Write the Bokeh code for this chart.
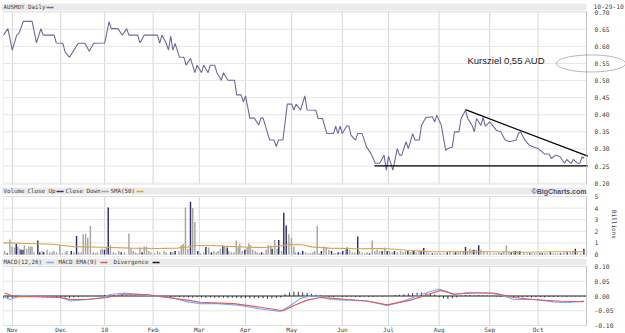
import numpy as np
from bokeh.plotting import figure
from bokeh.layouts import column
from bokeh.core.properties import value
from bokeh.models import (Range1d, Label, BoxAnnotation, PolyAnnotation, ColumnDataSource)
from bokeh.embed import file_html
from bokeh.resources import INLINE

# ---------------- data (x = trading-day index) ----------------
month_ticks = [4, 26, 46, 68, 89, 110, 131, 154, 175, 198, 221, 243]
month_labels = ["Nov", "Dec", "10", "Feb", "Mar", "Apr", "May", "Jun", "Jul", "Aug", "Sep", "Oct"]
price_ticks = [0.20, 0.25, 0.30, 0.35, 0.40, 0.45, 0.50, 0.55, 0.60, 0.65, 0.70]
vol_ticks = [0, 1, 2, 3, 4, 5]
macd_ticks = [-0.10, -0.05, 0.0, 0.05, 0.10]
chart_date = "10-29-10"

price_day = [0, 2, 4, 6, 7, 9, 13, 15, 17, 18,
             23, 24, 27, 28, 30, 32, 34, 37, 39, 41,
             46, 48, 49, 52, 54, 56, 57, 61, 62, 64,
             70, 71, 72, 74, 75, 76, 77, 78, 80, 82,
             83, 85, 87, 88, 90, 91, 93, 94, 96, 97,
             99, 100, 102, 105, 106, 108, 109, 110, 112, 114,
             116, 117, 118, 121, 123, 124, 125, 127, 129, 131,
             132, 133, 135, 137, 138, 142, 143, 145, 147, 150,
             151, 152, 153, 154, 156, 157, 158, 160, 161, 163,
             164, 165, 167, 169, 171, 173, 174, 175, 177, 179,
             180, 181, 183, 184, 186, 187, 189, 190, 192, 195,
             196, 197, 199, 201, 202, 204, 205, 207, 208, 210,
             211, 213, 214, 215, 217, 218, 219, 221, 224, 226,
             228, 230, 233, 234, 235, 237, 239, 241, 243, 246,
             248, 249, 251, 253, 255, 256, 258, 259, 261, 262,
             263, 264]
price_close = [0.633, 0.652, 0.589, 0.633, 0.638, 0.673, 0.673, 0.610, 0.652, 0.633,
               0.633, 0.610, 0.609, 0.584, 0.568, 0.589, 0.609, 0.609, 0.586, 0.609,
               0.610, 0.672, 0.652, 0.652, 0.633, 0.652, 0.633, 0.633, 0.610, 0.633,
               0.633, 0.609, 0.633, 0.609, 0.589, 0.630, 0.589, 0.609, 0.568, 0.568,
               0.545, 0.565, 0.523, 0.545, 0.523, 0.545, 0.523, 0.545, 0.545, 0.523,
               0.501, 0.523, 0.501, 0.501, 0.458, 0.458, 0.438, 0.455, 0.390, 0.390,
               0.370, 0.390, 0.390, 0.326, 0.326, 0.307, 0.326, 0.326, 0.431, 0.431,
               0.414, 0.431, 0.414, 0.455, 0.414, 0.413, 0.389, 0.389, 0.345, 0.345,
               0.367, 0.345, 0.367, 0.345, 0.367, 0.367, 0.340, 0.326, 0.345, 0.345,
               0.326, 0.306, 0.287, 0.258, 0.258, 0.282, 0.238, 0.279, 0.238, 0.301,
               0.282, 0.282, 0.321, 0.301, 0.345, 0.326, 0.326, 0.369, 0.392, 0.394,
               0.379, 0.399, 0.369, 0.296, 0.301, 0.306, 0.350, 0.350, 0.389, 0.413,
               0.389, 0.369, 0.350, 0.389, 0.369, 0.392, 0.367, 0.379, 0.355, 0.350,
               0.326, 0.321, 0.326, 0.345, 0.350, 0.326, 0.311, 0.306, 0.301, 0.285,
               0.285, 0.272, 0.282, 0.277, 0.258, 0.269, 0.258, 0.269, 0.258, 0.258,
               0.277, 0.272]

# chart annotations drawn by the author
support_level = 0.2505
support_start = 168.6
resist_start = (210.0, 0.415)
resist_end = (265.6, 0.279)
target_price = 0.55
target_text = "Kursziel 0,55 AUD"

vol_day = [0.5, 1.7, 2.9, 3.9, 5.0, 5.8, 6.5, 7.4, 8.0, 8.9, 9.5, 10.5, 11.5, 12.3, 13.0, 13.8,
           15.6, 16.5, 17.6, 18.3, 19.8, 21.0, 22.1, 22.9, 24.1, 25.6, 26.7, 28.2, 28.9, 30.8,
           32.0, 33.2, 34.2, 35.3, 36.2, 37.3, 38.3, 39.5, 40.8, 41.7, 42.6, 44.1, 44.9, 45.9,
           46.8, 47.6, 48.6, 49.9, 50.9, 52.4, 53.5, 55.0, 57.0, 58.0, 59.0, 60.0, 61.0, 62.0,
           63.0, 64.0, 65.0, 66.0, 67.0, 68.6, 70.0, 71.0, 73.0, 74.0, 76.0, 77.0, 78.0, 79.7,
           80.8, 81.7, 82.7, 83.8, 85.0, 86.0, 87.0, 88.3,
           89.5, 91.0, 92.0, 93.3, 94.5, 95.6, 96.7, 97.6, 98.6, 99.7, 100.6, 101.7, 102.4,
           103.6, 104.7, 105.8, 106.7, 107.4, 108.5, 109.7, 110.8, 111.5, 112.3, 113.3, 114.5,
           115.3, 116.4, 117.3, 118.3, 119.4, 120.3, 121.4, 122.1, 123.3, 124.4, 125.1, 126.4,
           127.4, 128.5, 129.7, 130.9, 132.0, 132.7, 134.0, 135.0, 136.0, 137.3, 138.5, 139.5,
           140.6, 141.5, 142.6, 143.6, 144.5, 145.6, 146.7, 147.9, 149.1, 150.1, 150.9, 152.1,
           153.2, 154.2, 155.5, 156.2, 157.3, 158.5, 159.7, 161.0, 161.8, 163.0, 164.2, 165.3,
           166.4, 167.6, 168.8, 169.8, 170.9, 172.1, 173.3, 174.4, 175.5, 176.7,
           177.7, 179.0, 180.5, 181.6, 182.7, 183.8, 184.8, 185.8, 186.5, 187.6, 188.8, 189.8,
           191.0, 192.3, 193.3, 194.9, 196.0, 197.1, 198.6, 200.0, 201.7, 202.9, 204.7, 205.5,
           206.6, 207.7, 209.0, 210.0, 211.0, 212.0, 213.0, 213.8, 215.0, 216.0, 217.0, 218.3,
           219.9, 221.4, 222.9, 224.0, 225.1, 226.3, 227.4, 228.6, 229.7, 230.8, 232.0, 232.7,
           233.8, 234.7, 236.5, 238.0, 239.2, 240.3, 241.5, 242.6, 243.8, 244.9, 246.0, 247.1,
           248.6, 249.8, 250.9, 252.0, 253.2, 254.7, 256.2, 257.7, 258.8, 259.9, 260.8, 262.3,
           263.8]
vol_bn = [0.3, 0.1, 1.3, 0.7, 0.6, 0.9, 0.7, 0.5, 0.4, 0.4, 0.8, 0.5, 0.7, 0.7, 0.7, 0.2,
          1.2, 0.2, 0.3, 0.2, 0.4, 0.2, 0.2, 0.3, 0.2, 0.8, 0.1, 0.2, 0.3, 0.3,
          0.2, 1.6, 0.2, 0.2, 1.75, 1.8, 1.45, 2.45, 0.2, 0.1, 0.2, 0.4, 0.5, 0.4,
          0.6, 4.05, 0.8, 0.2, 0.1, 0.3, 0.2, 0.2, 1.8, 0.5, 0.3, 0.2, 0.1, 0.6,
          0.2, 0.7, 0.7, 0.3, 0.2, 0.1, 0.3, 0.2, 0.3, 0.2, 0.2, 0.2, 0.3, 0.3,
          0.8, 0.9, 4.05, 0.5, 4.55, 4.0, 2.8, 0.3,
          0.1, 0.2, 0.65, 0.6, 0.2, 0.3, 0.2, 0.3, 0.5, 0.75, 0.7, 0.6, 0.3,
          0.2, 0.2, 1.2, 0.6, 0.95, 0.3, 0.4, 0.6, 0.95, 0.8, 0.4, 0.3,
          0.2, 0.1, 0.2, 0.1, 0.4, 0.8, 0.8, 0.5, 1.25, 0.5, 1.25, 0.3,
          3.6, 2.5, 1.75, 1.45, 0.7, 0.2, 0.2, 0.1, 0.3, 0.2, 0.1, 0.1,
          0.2, 0.3, 2.45, 0.1, 0.3, 0.7, 0.6, 0.4, 0.3, 0.1, 0.1, 0.2,
          0.2, 0.3, 0.4, 0.6, 0.4, 0.2, 0.2, 1.55, 0.3, 0.2, 0.1, 0.2,
          0.1, 1.2, 0.3, 0.4, 0.3, 0.3, 0.6, 0.3, 0.3, 0.2,
          0.3, 0.2, 0.3, 0.2, 0.3, 0.3, 0.2, 0.3, 0.3, 0.2, 0.3, 0.3,
          0.55, 0.2, 0.1, 0.1, 0.1, 0.1, 0.1, 0.1, 0.2, 0.3, 0.2, 0.2,
          0.2, 0.3, 0.3, 0.65, 0.3, 0.5, 0.4, 0.4, 0.4, 0.8, 0.4, 0.3,
          0.2, 0.1, 0.1, 0.1, 0.2, 0.1, 0.3, 0.8, 0.2, 0.2, 0.3, 0.3,
          0.3, 0.3, 0.2, 0.1, 0.1, 0.1, 0.1, 0.1, 0.1, 0.1, 0.1, 0.1,
          0.2, 0.1, 0.1, 0.1, 0.1, 0.2, 0.2, 0.2, 0.3, 0.5, 0.2, 0.1,
          0.5]
vol_up = [0, 1, 0, 0, 0, 1, 0, 0, 1, 1, 0, 0, 0, 0, 0, 0,
          1, 1, 0, 1, 0, 0, 0, 0, 0, 0, 0, 0, 0, 1,
          0, 1, 0, 0, 0, 0, 0, 0, 0, 0, 0, 0, 0, 1,
          0, 1, 0, 0, 0, 0, 1, 0, 0, 0, 0, 0, 0, 0,
          1, 0, 0, 0, 0, 0, 0, 0, 0, 0, 1, 0, 1, 0,
          0, 0, 0, 0, 1, 0, 0, 1,
          0, 0, 1, 0, 1, 0, 0, 0, 0, 1, 0, 1, 0,
          0, 0, 0, 0, 0, 0, 1, 0, 0, 0, 0, 0,
          0, 0, 1, 0, 0, 0, 0, 1, 0, 0, 1, 0,
          1, 1, 0, 0, 0, 0, 1, 0, 1, 0, 0, 0,
          0, 0, 0, 0, 1, 0, 0, 0, 1, 0, 0, 1,
          0, 1, 0, 1, 0, 0, 0, 1, 0, 0, 0, 0,
          1, 0, 0, 0, 0, 1, 0, 1, 0, 0,
          1, 0, 0, 0, 0, 1, 0, 0, 1, 0, 0, 1,
          1, 0, 0, 1, 0, 0, 0, 0, 1, 0, 0, 1,
          0, 0, 0, 1, 0, 0, 0, 1, 0, 1, 0, 0,
          0, 0, 0, 0, 0, 1, 0, 0, 0, 1, 0, 1,
          0, 1, 0, 0, 1, 0, 0, 0, 1, 1, 0, 0,
          1, 0, 0, 0, 1, 0, 1, 0, 0, 1, 0, 0,
          1]

sma_day = [0, 10, 22, 27, 32, 45, 58, 70, 79, 84, 88, 95, 102, 112, 119, 124, 130, 136,
           140, 148, 160, 172, 178, 185, 194, 205, 220, 236, 251, 264]
sma50 = [1.0, 0.95, 0.88, 0.78, 0.68, 0.62, 0.55, 0.52, 0.55, 0.66, 0.78, 0.78, 0.70, 0.62,
         0.60, 0.70, 0.86, 0.84, 0.66, 0.55, 0.50, 0.52, 0.45, 0.35, 0.25, 0.24, 0.24, 0.20,
         0.24, 0.24]

macd_day = [0.5, 3.2, 7.7, 13.8, 25.9, 30.5, 38.0, 45.6, 48.6, 54.7, 62.3, 68.3, 77.4, 83.5,
            89.5, 97.1, 107.7, 116.8, 125.9, 130.5, 135.0, 139.5, 142.6, 148.6, 156.2, 165.3,
            174.4, 180.5, 188.0, 194.1, 197.9, 201.7, 204.7, 210.8, 219.9, 225.9, 232.0, 241.0,
            250.0, 256.2, 263.8]
macd_line = [-0.005, -0.012, 0.002, 0.0, -0.005, -0.017, -0.012, -0.005, 0.005, 0.010, 0.005,
             0.0, -0.007, -0.020, -0.026, -0.026, -0.032, -0.044, -0.052, -0.032, -0.008, 0.0,
             0.0, -0.012, -0.014, -0.017, -0.032, -0.020, 0.0, 0.015, 0.024, 0.014, 0.004,
             0.012, 0.010, 0.004, -0.012, -0.012, -0.020, -0.023, -0.017]
signal_day = [0.5, 4.7, 13.8, 25.9, 30.5, 38.0, 47.1, 54.7, 65.3, 74.4, 83.5, 89.5, 104.7,
              116.8, 127.1, 132.0, 138.0, 143.8, 150.2, 156.2, 165.3, 174.4, 185.0, 192.6,
              198.6, 204.7, 213.8, 222.9, 232.0, 241.0, 253.2, 263.8]
signal_line = [0.010, -0.002, -0.002, -0.005, -0.012, -0.012, -0.005, 0.007, 0.005, -0.005,
               -0.014, -0.021, -0.026, -0.038, -0.050, -0.032, -0.014, -0.005, -0.008, -0.012,
               -0.017, -0.030, -0.014, 0.004, 0.019, 0.007, 0.010, 0.010, -0.005, -0.012,
               -0.018, -0.019]
div_day = list(range(0, 265, 2))
divergence = [-0.008, -0.008, -0.006,
              -0.004, -0.003, -0.003, -0.004, -0.003, -0.003, -0.004, -0.004, -0.003, -0.003,
              -0.004, -0.005, -0.006, -0.005, -0.004,
              -0.002, -0.001, 0.0, -0.001, 0.001,
              0.003, 0.004, 0.004, 0.003, 0.003,
              0.002, 0.001, 0.001, 0.0, 0.001, 0.0, -0.001, 0.0,
              -0.002, -0.002, -0.003, -0.002, -0.003,
              -0.004, -0.005, -0.005, -0.004, -0.005, -0.006, -0.005, -0.006, -0.006,
              -0.006, -0.007, -0.006, -0.007, -0.008, -0.007, -0.008, -0.008, -0.007, -0.008,
              -0.009, -0.008, -0.007, -0.005,
              0.006, 0.012, 0.015, 0.014, 0.012, 0.010, 0.007,
              0.004, 0.002, 0.0,
              -0.003, -0.003, -0.002, -0.003, -0.003, -0.002, -0.003, -0.003, -0.002, -0.003,
              -0.003, -0.002,
              -0.002, -0.001, 0.001, 0.003, 0.004,
              0.006, 0.008, 0.010, 0.011, 0.012, 0.010, 0.008, 0.005,
              -0.004, -0.008, -0.010, -0.008, -0.004,
              0.002, 0.003, 0.003, 0.002, 0.003, 0.002, 0.002, 0.001,
              -0.002, -0.003, -0.004, -0.004, -0.003, -0.004, -0.004, -0.003, -0.004, -0.003,
              -0.003, -0.004, -0.003, -0.003,
              -0.003, -0.002, -0.003, -0.002, -0.002, -0.002, -0.002]

# ---------------- styling / layout ----------------
W = 625
L, R = 3, 39                 # data area spans page x 3..586
X_END = 265
PXU = (W - L - R) / X_END    # pixels per day
MONO = "DejaVu Sans Mono"
TXT = "#3c3c3c"
PRICE_C = "#6b6b9c"
UP_C = "#2c2c6e"
DOWN_C = "#a4a4a4"
SMA_C = "#d8a24a"
MACD_C = "#78aaf5"
SIG_C = "#e2585c"
BAR_BG = "#ebebeb"
VGRID = "#d6d6d6"
HGRID = "#e6e6e6"
EDGE = "#cdcdcd"
AXLINE = "#9a9a9a"
LABEL_X = 594


def tx(px):
    return (px - L) / PXU


def base(height, yr):
    # the frame spans the full canvas so that annotations can reach the right edge
    p = figure(width=W, height=height, x_range=Range1d(tx(0), tx(W)), y_range=yr,
               output_backend="svg", toolbar_location=None,
               x_axis_location=None, y_axis_location=None, min_border=0)
    p.xgrid.visible = False
    p.ygrid.visible = False
    p.outline_line_color = None
    p.border_fill_color = "white"
    p.background_fill_color = "white"
    return p


def panel_frame(p, y0, y1, ticks, fmt):
    p.segment(x0=month_ticks, x1=month_ticks, y0=y0, y1=y1, line_color=VGRID, line_width=1)
    p.segment(x0=0, x1=X_END, y0=ticks, y1=ticks, line_color=HGRID, line_width=1)
    p.add_layout(BoxAnnotation(left=0, right=X_END, bottom=y0, top=y1, fill_alpha=0,
                               fill_color=None, line_color=EDGE, line_width=1))
    p.add_layout(BoxAnnotation(left=X_END, right=X_END, bottom=y0, top=y1, fill_alpha=0,
                               fill_color=None, line_color=AXLINE, line_width=1))
    # right-hand value labels
    p.text(x=tx(LABEL_X), y=ticks, text=[fmt % v for v in ticks],
           text_font=value(MONO), text_font_size="6.3px", text_color=TXT,
           text_baseline="middle", text_align="left")


def header(p, y_top, y_bot, y_mid, segments):
    p.add_layout(BoxAnnotation(left=tx(1), right=X_END, top=y_top, bottom=y_bot,
                               fill_color=BAR_BG, fill_alpha=1, line_color=None))
    for px, text, color in segments:
        p.add_layout(Label(x=tx(px), y=y_mid, text=text, text_color=color,
                           text_font=MONO, text_font_size="5.8px", text_baseline="middle",
                           text_align="left"))


# --- price panel (page y 0..186) ---
P0, P1 = 0.196, 0.702          # values at page y 184 and 11
PU = (P1 - P0) / 173.0         # value per pixel


def py(cy):
    return P1 - (cy - 11) * PU


p1 = base(186, Range1d(py(186), py(0)))
panel_frame(p1, P0, P1, price_ticks, "%.2f")
header(p1, py(3), py(10), py(6.5), [(3, "AUSMOY Daily", TXT), (46, "▬▬", PRICE_C)])
p1.add_layout(Label(x=tx(593), y=py(5.5), text=chart_date, text_color=TXT,
                    text_font=MONO, text_font_size="6.3px", text_baseline="middle"))
p1.line(price_day, price_close, line_color=PRICE_C, line_width=1.1)
p1.segment(x0=[support_start, resist_start[0]], y0=[support_level, resist_start[1]],
           x1=[X_END + 0.6, resist_end[0]], y1=[support_level, resist_end[1]],
           line_color="black", line_width=1.2)
p1.add_layout(Label(x=tx(467), y=target_price + 3 * PU, text=target_text,
                    text_font="Liberation Sans", text_font_size="9.5px",
                    text_color="#1a1a1a", text_baseline="middle"))
theta = np.linspace(0, 2 * np.pi, 120)
ell_cx = tx(590.5)
p1.add_layout(PolyAnnotation(xs=list(ell_cx + (34.5 / PXU) * np.cos(theta)),
                             ys=list(target_price + 8.5 * PU * np.sin(theta)),
                             fill_color=None, fill_alpha=0, line_color="#111111",
                             line_width=1))

# --- volume panel (page y 186..257) ---
VU = 1 / 11.6                  # billions per pixel


def vy(cy):
    return 5.0 - (cy - 10) * VU


p2 = base(71, Range1d(vy(71), vy(0)))
panel_frame(p2, vy(70), 5.0, vol_ticks, "%d")
p2.text(x=tx(614), y=vy(38), text=["Billions"], angle=-np.pi / 2,
        text_font=value(MONO), text_font_size="6px", text_color=TXT,
        text_baseline="middle", text_align="center")
header(p2, vy(1), vy(8), vy(4.5),
       [(3, "Volume", TXT), (27, "Close Up", TXT), (56, "▬▬", UP_C),
        (65, "Close Down", TXT), (101, "▬▬", DOWN_C), (110, "SMA(50)", TXT),
        (136, "▬▬", SMA_C)])
p2.add_layout(Label(x=X_END, y=vy(4.5), text="©BigCharts.com", text_align="right",
                    text_baseline="middle", text_font="Liberation Sans",
                    text_font_style="bold", text_font_size="7px", text_color="#50507a"))
vsrc = ColumnDataSource(dict(x=vol_day, top=vol_bn,
                             color=[UP_C if u else DOWN_C for u in vol_up]))
p2.vbar(x="x", top="top", bottom=0, width=0.65, source=vsrc, fill_color="color",
        line_color=None)
p2.line(sma_day, sma50, line_color=SMA_C, line_width=1.1)

# --- MACD panel (page y 257..333) ---
MU = 1 / 295.0


def my(cy):
    return 0.10 - (cy - 9) * MU


p3 = base(76, Range1d(my(76), my(0)))
panel_frame(p3, -0.10, 0.10, macd_ticks, "%.2f")
header(p3, my(1), my(8), my(4.5),
       [(3, "MACD(12,26)", TXT), (46, "▬▬", MACD_C), (58, "MACD EMA(9)", TXT),
        (100, "▬▬", SIG_C), (113, "Divergence", TXT), (152, "▬▬", "#111111")])
p3.vbar(x=div_day, top=divergence, bottom=0, width=0.4, fill_color="#222222",
        line_color=None)
p3.segment(x0=0, x1=X_END, y0=0, y1=0, line_color="#2a2a2a", line_width=1)
p3.line(macd_day, macd_line, line_color=MACD_C, line_width=1.1)
p3.line(signal_day, signal_line, line_color=SIG_C, line_width=1.1)
# month labels along the bottom of the MACD panel
p3.text(x=month_ticks, y=my(72), text=month_labels, text_font=value(MONO),
        text_font_size="6px", text_color=TXT, text_baseline="middle", text_align="center")

layout = column(p1, p2, p3, spacing=0)
open("out.html", "w").write(file_html(layout, INLINE))
